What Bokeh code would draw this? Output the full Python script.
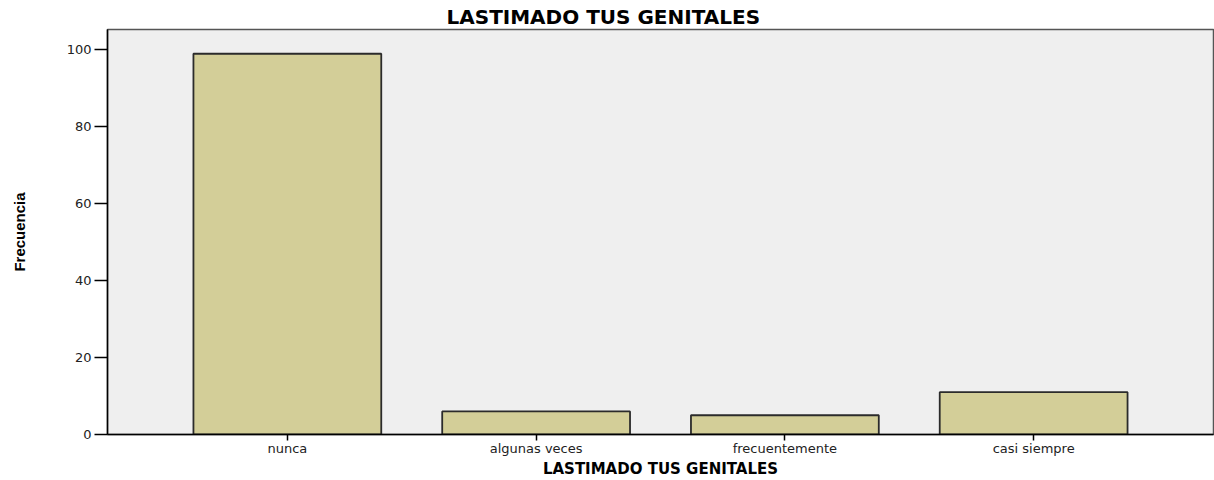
from bokeh.plotting import figure
from bokeh.models import FactorRange, Range1d, FixedTicker, ColumnDataSource, Title
from bokeh.embed import file_html
from bokeh.resources import INLINE

categorias = ["nunca", "algunas veces", "frecuentemente", "casi siempre"]
frecuencias = [99, 6, 5, 11]
y_ticks = [0, 20, 40, 60, 80, 100]
titulo = "LASTIMADO TUS GENITALES"
etiqueta_x = "LASTIMADO TUS GENITALES"
etiqueta_y = "Frecuencia"

src = ColumnDataSource(dict(cat=categorias, val=frecuencias))

p = figure(
    width=1214, height=480,
    x_range=FactorRange(factors=categorias, range_padding=0.223, range_padding_units="absolute"),
    y_range=Range1d(0, 105.3),
    output_backend="svg", toolbar_location=None,
    min_border_left=107, min_border_right=1, min_border_top=29, min_border_bottom=46,
    background_fill_color="#EFEFEF", border_fill_color="white",
    outline_line_color="#555555", outline_line_width=1.5,
)

p.title = Title(text=titulo, align="left", text_font="DejaVu Sans", text_font_style="bold",
                text_font_size="20px", text_color="black", standoff=2, offset=339)

p.vbar(x="cat", top="val", width=0.755, source=src,
       fill_color="#D3CE98", line_color="#2b2b2b", line_width=1.8)

p.xgrid.visible = False
p.ygrid.visible = False

for ax in (p.xaxis[0], p.yaxis[0]):
    ax.axis_line_color = "black"
    ax.axis_line_width = 1.5
    ax.major_tick_line_color = "black"
    ax.major_tick_line_width = 1.5
    ax.minor_tick_line_color = None
    ax.major_tick_in = 0
    ax.major_label_text_font = "DejaVu Sans"
    ax.major_label_text_color = "#222222"
    ax.axis_label_text_color = "black"
    ax.axis_label_text_font_style = "bold"

p.yaxis.ticker = FixedTicker(ticks=y_ticks)
p.yaxis.major_tick_out = 13
p.yaxis.major_label_standoff = 3
p.yaxis.major_label_text_font_size = "13px"
p.yaxis.axis_label = etiqueta_y
p.yaxis.axis_label_text_font = "Liberation Sans"
p.yaxis.axis_label_text_font_size = "15px"
p.yaxis.axis_label_standoff = 36

p.xaxis.major_tick_out = 6
p.xaxis.major_label_standoff = 0
p.xaxis.major_label_text_font_size = "13px"
p.xaxis.axis_label = etiqueta_x
p.xaxis.axis_label_text_font = "DejaVu Sans"
p.xaxis.axis_label_text_font_size = "15px"
p.xaxis.axis_label_standoff = 1

open("out.html", "w").write(file_html(p, INLINE))
